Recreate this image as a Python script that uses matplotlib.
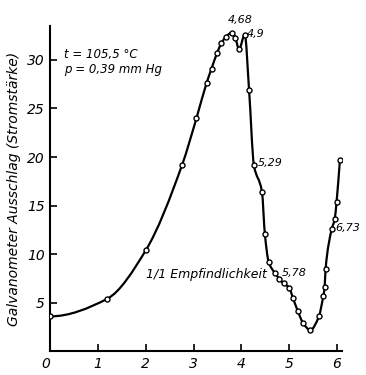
import numpy as np
from matplotlib import pyplot as plt
from matplotlib.path import Path
from matplotlib.patches import PathPatch

# measured points (wavelength-ish axis vs. galvanometer reading)
x_pts = [0.0, 1.19, 2.0, 2.76, 3.06, 3.27, 3.375, 3.49, 3.58, 3.67, 3.80, 3.87,
         3.95, 4.07, 4.16, 4.26, 4.43, 4.49, 4.57, 4.70, 4.79, 4.88, 5.0, 5.08,
         5.18, 5.29, 5.44, 5.62, 5.71, 5.74, 5.76, 5.89, 5.95, 5.99, 6.06]
y_pts = [3.6, 5.4, 10.4, 19.2, 24.0, 27.6, 29.1, 30.7, 31.7, 32.35, 32.8, 32.3,
         31.1, 32.6, 26.9, 19.2, 16.4, 12.1, 9.2, 8.06, 7.5, 7.0, 6.55, 5.45,
         4.14, 2.9, 2.2, 3.6, 5.65, 6.6, 8.5, 12.6, 13.6, 15.4, 19.7]

# labelled points: text, x, y
marks = [("4,68", 3.72, 33.6), ("4,9", 4.12, 32.2), ("5,29", 4.34, 18.9),
         ("5,78", 4.85, 7.6), ("6,73", 5.97, 12.2)]

xticks = [0, 1, 2, 3, 4, 5, 6]
yticks = [5, 10, 15, 20, 25, 30]

plt.rcParams['font.family'] = ['DejaVu Sans']
fig = plt.figure(figsize=(3.66, 3.75), dpi=100)
ax = fig.add_axes([0.137, 0.063, 0.797, 0.868])

#smooth curve through the points (monotone cubic hermite drawn as bezier)
x = np.array(x_pts)
y = np.array(y_pts)
h = np.diff(x)
d = np.diff(y) / h
m = np.zeros(len(x))
for k in range(1, len(x) - 1):
    if d[k-1] * d[k] > 0:
        w1 = 2 * h[k] + h[k-1]
        w2 = h[k] + 2 * h[k-1]
        m[k] = (w1 + w2) / (w1 / d[k-1] + w2 / d[k])
m[0] = 0.0
m[-1] = d[-1]
verts = [(x[0], y[0])]
codes = [Path.MOVETO]
for k in range(len(x) - 1):
    verts += [(x[k] + h[k] / 3, y[k] + m[k] * h[k] / 3),
              (x[k+1] - h[k] / 3, y[k+1] - m[k+1] * h[k] / 3),
              (x[k+1], y[k+1])]
    codes += [Path.CURVE4] * 3
ax.add_patch(PathPatch(Path(verts, codes), fc='none', ec='black', lw=1.6, zorder=2))
ax.plot(x_pts, y_pts, 'o', ms=3.6, mfc='white', mec='black', mew=1.0, zorder=3)

for t, xx, yy in marks:
    ax.text(xx, yy, t, fontsize=8, style='italic', ha='left', va='bottom')

ax.text(0.3, 30.2, "t = 105,5 °C", fontsize=8.5, style='italic')
ax.text(0.3, 28.6, "p = 0,39 mm Hg", fontsize=8.5, style='italic')
ax.text(2.0, 7.6, "1/1 Empfindlichkeit", fontsize=9, style='italic')

ax.set_xlim(0, 6.1)
ax.set_ylim(0, 33.5)
ax.set_xticks(xticks)
ax.set_yticks(yticks)
ax.set_xticklabels([str(v) for v in xticks], fontsize=10, style='italic')
ax.set_yticklabels([str(v) for v in yticks], fontsize=10, style='italic')
ax.get_xticklabels()[0].set_ha('right')
ax.tick_params(direction='in', length=5, width=1.2, pad=4)
for s in ['top', 'right']:
    ax.spines[s].set_visible(False)
for s in ['left', 'bottom']:
    ax.spines[s].set_linewidth(1.5)
ax.set_ylabel("Galvanometer Ausschlag (Stromstärke)", fontsize=10, style='italic', labelpad=4)

fig.savefig("out.png", dpi=100)
